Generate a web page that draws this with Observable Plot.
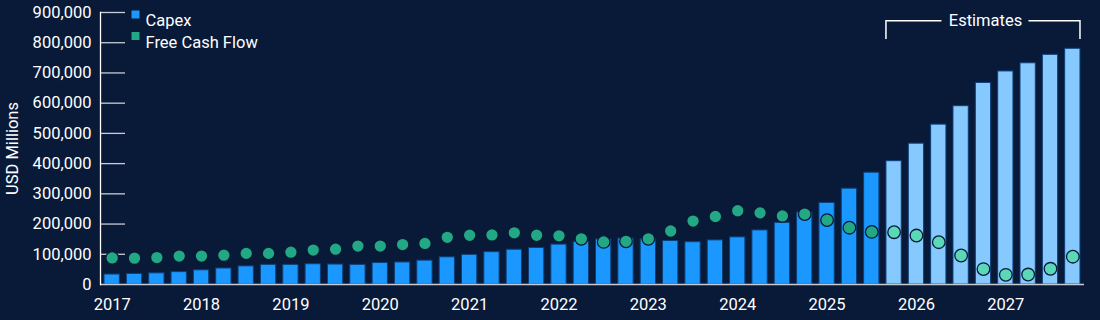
<!DOCTYPE html>
<html><head><meta charset="utf-8">
<script src="https://cdn.jsdelivr.net/npm/d3@7"></script>
<script src="https://cdn.jsdelivr.net/npm/@observablehq/plot@0.6"></script>
<style>
html,body{margin:0;padding:0;background:#081a38;}
#chart svg{display:block;}
</style></head><body><div id="chart"></div>
<script>
const years = ["2017","2018","2019","2020","2021","2022","2023","2024","2025","2026","2027"];
const quarters = ["Q1","Q2","Q3","Q4"];
const periods = years.flatMap(y => quarters.map(q => `${y} ${q}`));

// USD millions
const capex = [33,35,37,41, 47,53,60,65, 65,67,66,65, 71,73,79,90, 98,107,115,121, 132,141,149,152,
               150,144,140,146, 156,179,204,238, 270,317,370,408, 466,529,590,667, 705,732,760,780].map(v => v*1000);
const fcf   = [88,87,89,94, 94,97,103,103, 107,114,117,127, 127,132,136,156, 163,164,171,163, 161,151,141,143,
               151,177,210,225, 244,237,227,233, 213,188,174,173, 162,140,96,51, 32,33,52,92].map(v => v*1000);
const estimateStart = "2025 Q4";
const yTicks = [0,100000,200000,300000,400000,500000,600000,700000,800000,900000];
const legendLabels = ["Capex","Free Cash Flow"];
const bracketLabel = "Estimates";
const yTitle = "USD Millions";

const estIdx = periods.indexOf(estimateStart);
const data = periods.map((p,i) => ({period:p, capex:capex[i], fcf:fcf[i], est: i >= estIdx}));

const C = {bg:"#081a38", bar:"#1a98ff", barEst:"#86c9ff", dot:"#22a885", dotEst:"#5ad8b8", text:"#ffffff"};
const font = "Roboto, sans-serif";
const fs = 16.5;

function bracket(index, scales, values, dimensions) {
  const x = scales.x;
  const bw = typeof x.bandwidth === "function" ? x.bandwidth() : 15.3;
  const x0 = x(estimateStart), x1 = x(periods[periods.length-1]) + bw;
  const yl = dimensions.marginTop + 8.7, yb = dimensions.marginTop + 27;
  const mid = (x0 + x1) / 2 + 2.5;
  const g = d3.create("svg:g").attr("fill","none").attr("stroke", C.text).attr("stroke-width",1.5);
  g.append("path").attr("d", `M${x0},${yb}V${yl}H${mid-44}`);
  g.append("path").attr("d", `M${mid+43},${yl}H${x1}V${yb}`);
  g.append("text").attr("x", mid).attr("y", yl).attr("dy","0.35em").attr("text-anchor","middle")
    .attr("fill", C.text).attr("stroke","none").attr("font-size",fs).attr("font-family",font).text(bracketLabel);
  return g.node();
}

const chart = Plot.plot({
  width: 1100, height: 320,
  marginLeft: 100, marginRight: 16, marginTop: 12, marginBottom: 36,
  style: {background: C.bg, color: C.text, fontFamily: font, fontSize: fs + "px", overflow: "visible"},
  x: {type: "band", domain: periods, paddingInner: 0.315, paddingOuter: 0.18, round: false, axis: null},
  y: {domain: [0, 900000], axis: null},
  color: {type: "identity"},
  marks: [
    Plot.barY(data, {x: "period", y: "capex", fill: d => d.est ? C.barEst : C.bar, stroke: "#0b3f7a", strokeWidth: 1}),
    Plot.ruleY([0], {stroke: "#c5cad3", strokeWidth: 1.5}),
    Plot.ruleY(yTicks.filter(d => d > 0), {stroke: "#c8ccd4", strokeWidth: 1.3, insetRight: 959}),
    Plot.frame({anchor: "left", stroke: "#ffffff", strokeWidth: 1.3}),
    Plot.axisY({ticks: yTicks, tickSize: 0, tickPadding: 9, tickFormat: d3.format(","), fontSize: fs, label: null}),
    Plot.axisX({ticks: periods.filter(p => p.endsWith("Q1")), tickSize: 0, tickPadding: 13.5, tickFormat: p => p.slice(0,4), fontSize: fs, label: null}),
    Plot.dot(data, {x: "period", y: "fcf", r: 6.3, fill: d => d.est ? C.dotEst : C.dot, stroke: "#0a1a36", strokeWidth: 1.3}),
    Plot.text([yTitle], {text: d => d, frameAnchor: "left", dx: -87.5, rotate: -90, textAnchor: "middle", fontSize: fs, fill: C.text}),
    Plot.dot([legendLabels[0]], {frameAnchor: "top-left", dx: 35, dy: 2, symbol: "square", r: 4.5, fill: C.bar}),
    Plot.dot([legendLabels[1]], {frameAnchor: "top-left", dx: 35, dy: 23.5, symbol: "square", r: 4.5, fill: C.dot}),
    Plot.text([legendLabels[0]], {text: d => d, frameAnchor: "top-left", dx: 45, dy: 2, textAnchor: "start", fontSize: fs, fill: C.text}),
    Plot.text([legendLabels[1]], {text: d => d, frameAnchor: "top-left", dx: 45, dy: 23.5, textAnchor: "start", fontSize: fs, fill: C.text}),
    bracket
  ]
});
document.getElementById("chart").append(chart);
</script></body></html>
